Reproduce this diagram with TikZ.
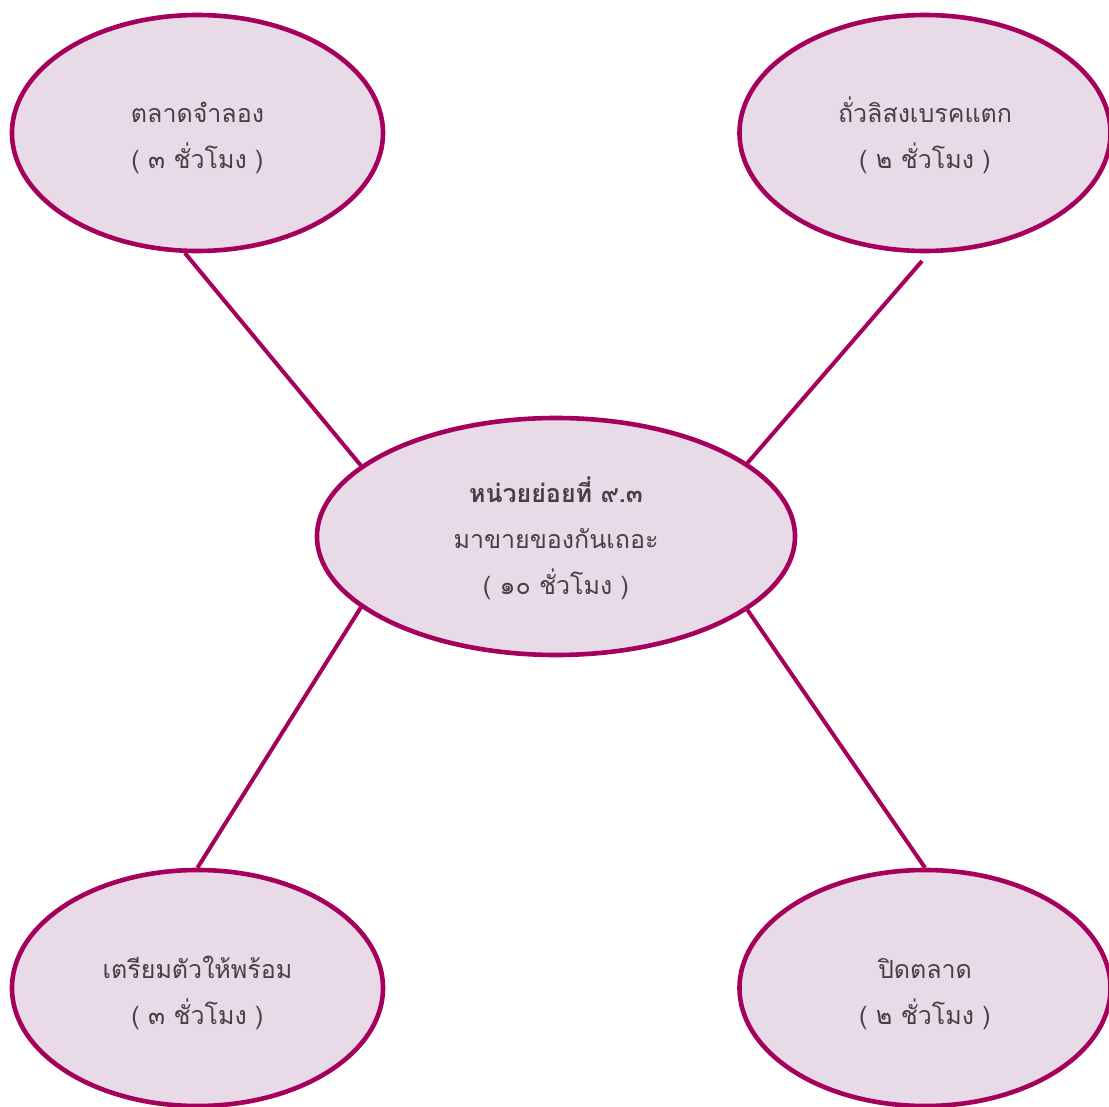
\documentclass[tikz,border=0pt]{standalone}
\usepackage{fontspec}
\newfontfamily\thaifont[Script=Thai]{Loma}
\usetikzlibrary{shapes.geometric}
\definecolor{edgec}{RGB}{165,0,92}
\definecolor{fillc}{RGB}{232,218,231}
\definecolor{textc}{RGB}{70,64,70}
\tikzset{
  bubble/.style={ellipse, draw=edgec, fill=fillc, line width=4.6pt, inner sep=0pt},
  txt/.style={text=textc, align=center, inner sep=0pt, font=\thaifont\fontsize{25}{46}\selectfont},
  smallbub/.style={bubble, minimum width=371pt, minimum height=236pt},
  link/.style={draw=edgec, line width=4pt}
}
\begin{document}
\begin{tikzpicture}[x=1pt,y=-1pt]
\useasboundingbox (0,0) rectangle (1109,1107);
\node[bubble, minimum width=478pt, minimum height=237pt] (c) at (556,536.5) {};
\node[txt, yshift=-1.5pt] (ct) at (c.center) {\textbf{หน่วยย่อยที่ ๙.๓}\\มาขายของกันเถอะ\\( ๑๐ ชั่วโมง )};
\node[smallbub] (tl) at (197.5,133) {};
\node[txt, yshift=-5pt] (tlt) at (tl.center) {ตลาดจำลอง\\( ๓ ชั่วโมง )};
\node[smallbub] (tr) at (925,133) {};
\node[txt, yshift=-2.5pt] (trt) at (tr.center) {ถั่วลิสงเบรคแตก\\( ๒ ชั่วโมง )};
\node[smallbub] (bl) at (197.5,988) {};
\node[txt, yshift=-5pt] (blt) at (bl.center) {เตรียมตัวให้พร้อม\\( ๓ ชั่วโมง )};
\node[smallbub] (br) at (925,988) {};
\node[txt, yshift=-6.5pt] (brt) at (br.center) {ปิดตลาด\\( ๒ ชั่วโมง )};
\coordinate (trend) at (922,261);
\draw[link] (tl.264) -- (c.160.6);
\draw[link] (trend) -- (c.21.1);
\draw[link] (bl.90) -- (c.200.7);
\draw[link] (br.90.5) -- (c.-21.3);
\end{tikzpicture}
\end{document}
